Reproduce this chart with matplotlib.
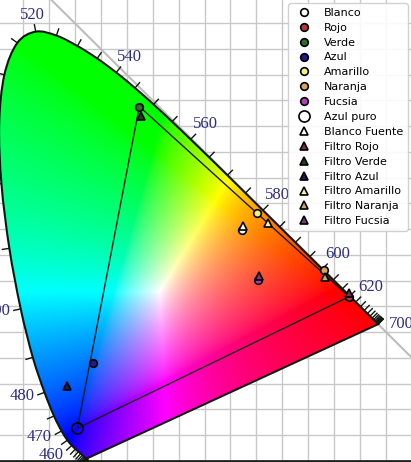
import numpy as np
import matplotlib
matplotlib.use('Agg')
import matplotlib.pyplot as plt
from matplotlib.path import Path
from matplotlib.patches import PathPatch

# ---------------- data ----------------
wavelengths = list(range(380, 705, 5))
locus_x = [0.17411, 0.17401, 0.17380, 0.17356, 0.17334, 0.17302, 0.17258, 0.17209,
           0.17141, 0.17030, 0.16888, 0.16690, 0.16441, 0.16110, 0.15664, 0.15099,
           0.14396, 0.13550, 0.12412, 0.10959, 0.09129, 0.06871, 0.04539, 0.02346,
           0.00817, 0.00386, 0.01387, 0.03885, 0.07430, 0.11416, 0.15472, 0.19288,
           0.22962, 0.26578, 0.30160, 0.33736, 0.37310, 0.40874, 0.44406, 0.47877,
           0.51249, 0.54479, 0.57515, 0.60293, 0.62704, 0.64823, 0.66576, 0.68008,
           0.69150, 0.70061, 0.70792, 0.71403, 0.71903, 0.72303, 0.72599, 0.72827,
           0.72997, 0.73109, 0.73199, 0.73272, 0.73342, 0.73405, 0.73439, 0.73459,
           0.73469]
locus_y = [0.00496, 0.00498, 0.00492, 0.00492, 0.00480, 0.00478, 0.00480, 0.00483,
           0.00510, 0.00579, 0.00690, 0.00855, 0.01086, 0.01379, 0.01771, 0.02274,
           0.02970, 0.03988, 0.05780, 0.08684, 0.13270, 0.20072, 0.29498, 0.41270,
           0.53842, 0.65482, 0.75019, 0.81202, 0.83380, 0.82621, 0.80586, 0.78163,
           0.75433, 0.72432, 0.69231, 0.65885, 0.62445, 0.58961, 0.55471, 0.52020,
           0.48659, 0.45443, 0.42423, 0.39650, 0.37249, 0.35139, 0.33401, 0.31975,
           0.30834, 0.29930, 0.29203, 0.28593, 0.28093, 0.27695, 0.27401, 0.27173,
           0.27003, 0.26891, 0.26801, 0.26728, 0.26658, 0.26595, 0.26561, 0.26541,
           0.26531]
label_wavelengths = [380, 460, 470, 480, 490, 500, 510, 520, 540, 560, 580, 600, 620, 700]

point_names = ['Blanco', 'Rojo', 'Verde', 'Azul', 'Amarillo', 'Naranja', 'Fucsia', 'Azul puro']
point_x = [0.4717, 0.6787, 0.2742, 0.1854, 0.5018, 0.6310, 0.5037, 0.1546]
point_y = [0.4483, 0.3187, 0.6883, 0.1893, 0.4808, 0.3706, 0.3512, 0.0630]
point_colors = ['white', '#b03a3a', '#2e6b2e', '#1c1c8c', '#f2f27a', '#d6a45a', '#b040b8', 'none']

filter_names = ['Blanco Fuente', 'Filtro Rojo', 'Filtro Verde', 'Filtro Azul',
                'Filtro Amarillo', 'Filtro Naranja', 'Filtro Fucsia']
filter_x = [0.4736, 0.6780, 0.2774, 0.1341, 0.5230, 0.6324, 0.5056]
filter_y = [0.4561, 0.3250, 0.6700, 0.1452, 0.4625, 0.3576, 0.3590]
filter_colors = ['white', '#7a2e3e', '#1f3f1f', '#1c1c5c', '#f4f4b0', '#c9a878', '#7a3a7a']

gamut_names = ['Verde', 'Rojo', 'Azul puro']

# ---------------- figure ----------------
fig = plt.figure(figsize=(4.11, 4.62), dpi=100)
ax = fig.add_axes([0, 0, 1, 1])
fig.patch.set_facecolor('white')

lx = np.array(locus_x)
ly = np.array(locus_y)

# smooth (Catmull-Rom drawn as cubic Bezier) closed outline path
P = np.column_stack([lx, ly])
n = len(P)
verts = [P[0]]
codes = [Path.MOVETO]
for i in range(n - 1):
    p0 = P[max(i - 1, 0)]
    p1 = P[i]
    p2 = P[i + 1]
    p3 = P[min(i + 2, n - 1)]
    verts += [p1 + (p2 - p0) / 6.0, p2 - (p3 - p1) / 6.0, p2]
    codes += [Path.CURVE4] * 3
verts += [P[0], P[0]]
codes += [Path.LINETO, Path.CLOSEPOLY]
locus_path = Path(np.array(verts), codes)

# chromaticity fill
xs = np.linspace(0, 0.8, 500)
ys = np.linspace(0, 0.9, 560)
X, Y = np.meshgrid(xs, ys)
Yc = np.maximum(Y, 1e-4)
XYZ = np.stack([X / Yc, np.ones_like(X), (1 - X - Y) / Yc], axis=-1)
M = np.array([[3.2406, -1.5372, -0.4986],
              [-0.9689, 1.8758, 0.0415],
              [0.0557, -0.2040, 1.0570]])
RGB = XYZ @ M.T
mx = np.maximum(np.max(RGB, axis=-1, keepdims=True), 1e-6)
RGB = np.clip(RGB / mx, 0, 1)
RGB = RGB ** (1 / 1.5)
im = ax.imshow(RGB, extent=(0, 0.8, 0, 0.9), origin='lower', interpolation='bilinear',
               aspect='auto', zorder=1)
clip_patch = PathPatch(locus_path, transform=ax.transData, facecolor='none', edgecolor='none')
ax.add_patch(clip_patch)
im.set_clip_path(clip_patch)

# x + y = 1 line
ax.plot([0, 1], [1, 0], color='#bdbdbd', lw=1.5, zorder=0.8)

# locus outline
ax.add_patch(PathPatch(locus_path, facecolor='none', edgecolor='#101810', lw=1.5, zorder=3))

# ticks and labels
dx = np.gradient(lx)
dy = np.gradient(ly)
nx, ny = -dy, dx
nn = np.hypot(nx, ny)
nn[nn == 0] = 1
nx, ny = nx / nn, ny / nn
tick_len = 0.015
for i, wl in enumerate(wavelengths):
    ax.plot([lx[i], lx[i] + nx[i] * tick_len], [ly[i], ly[i] + ny[i] * tick_len],
            color='#101810', lw=1.0, zorder=3, solid_capstyle='butt')
for wl in label_wavelengths:
    i = wavelengths.index(wl)
    ux, uy = nx[i], ny[i]
    if wl == 700:
        ux, uy = 1.0, 0.0
    if wl == 380:
        ux, uy = 0.87, -0.5
    if ux < -0.5:
        uy *= 0.5
        h = np.hypot(ux, uy)
        ux, uy = ux / h, uy / h
    d = 0.031 + 0.014 * abs(ux)
    ax.text(lx[i] + ux * d, ly[i] + uy * d, str(wl), ha='center', va='center',
            fontsize=12, family='Liberation Serif', color='#2d2d80', zorder=4,
            clip_on=False)

# gamut triangle
gx = [point_x[point_names.index(nm)] for nm in gamut_names]
gy = [point_y[point_names.index(nm)] for nm in gamut_names]
ax.plot(gx + gx[:1], gy + gy[:1], color='#1a1a1a', lw=1.0, zorder=5)

# points
for name, x, y, c in zip(point_names, point_x, point_y, point_colors):
    ms = 8 if name == 'Azul puro' else 5.5
    ax.plot([x], [y], 'o', ms=ms, mfc=c, mec='black', mew=1.2, ls='none',
            label=name, zorder=6)
for name, x, y, c in zip(filter_names, filter_x, filter_y, filter_colors):
    ax.plot([x], [y], '^', ms=5.5, mfc=c, mec='black', mew=1.2, ls='none',
            label=name, zorder=7)

# grid / axes
ax.set_xticks(np.arange(0, 0.85, 0.05))
ax.set_yticks(np.arange(0, 0.95, 0.05))
ax.grid(True, color='#c8c8c8', lw=1.0, zorder=0)
ax.set_axisbelow(True)
ax.tick_params(length=0, labelbottom=False, labelleft=False)
for s in ax.spines.values():
    s.set_visible(False)
ax.axhline(0, color='#202020', lw=2.0, zorder=2)
ax.set_xlim(0.0054, 0.7982)
ax.set_ylim(-0.0025, 0.8953)

leg = ax.legend(loc='upper right', borderaxespad=0.3,
                labelspacing=0.44, handletextpad=0.8, framealpha=0.9,
                prop={'family': 'DejaVu Sans', 'size': 8})
leg.set_zorder(10)

fig.savefig('out.png', dpi=100, facecolor='white')
